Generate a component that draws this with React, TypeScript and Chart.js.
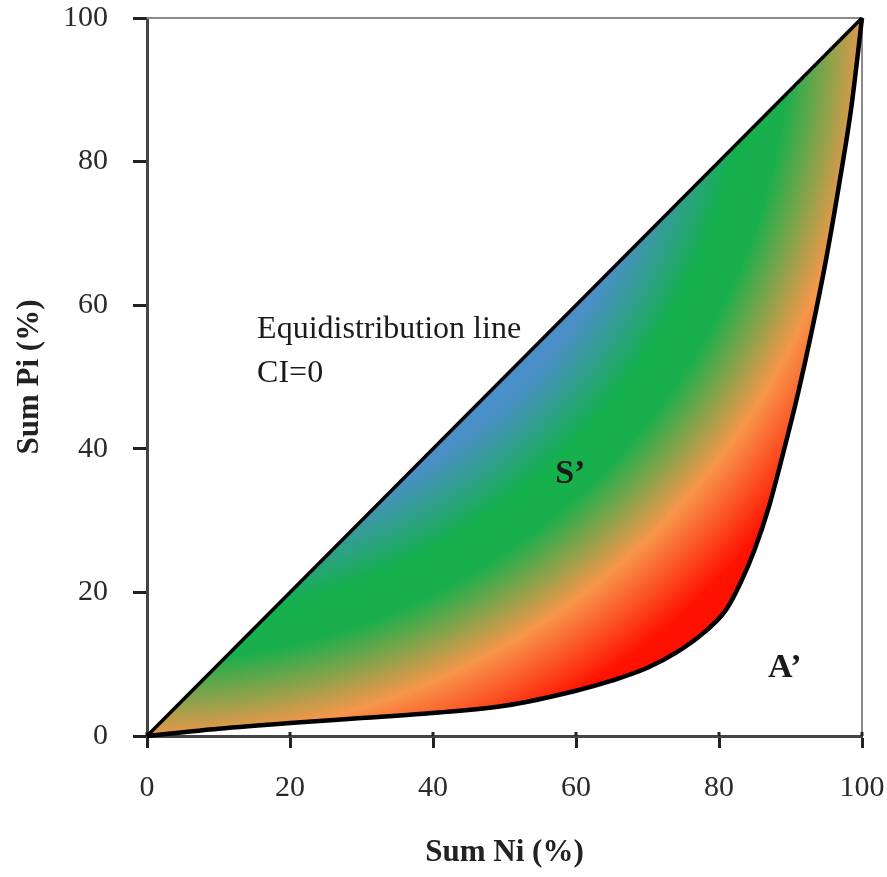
import React, { useEffect, useRef } from 'react';
import { Chart, registerables } from 'chart.js';

Chart.register(...registerables);

// ---- data ----
const equalityX = [0, 100];
const equalityY = [0, 100];
const lorenzX = [0, 10, 20, 30, 40, 50, 60, 65, 70, 74, 78, 81, 83, 85, 87, 89, 91, 93, 95, 97, 98.5, 100];
const lorenzY = [0, 1.0, 1.8, 2.5, 3.2, 4.2, 6.3, 7.7, 9.5, 11.6, 14.5, 17.6, 21.3, 26.0, 32.0, 39.5, 47.5, 56.5, 66.5, 78.0, 87.5, 100];
const xTitle = 'Sum Ni (%)';
const yTitle = 'Sum Pi (%)';
const labelTexts = ['Equidistribution line', 'CI=0', 'S\u2019', 'A\u2019'];
const labelAnchorX = [15.4, 15.4, 59.2, 89.2];
const labelAnchorY = [55.4, 49.3, 36.4, 9.5];

const SERIF = '"Liberation Serif", "Times New Roman", serif';

const framePlugin = {
  id: 'frame',
  beforeDatasetsDraw(chart: any) {
    const { ctx, chartArea } = chart;
    const { left, top, right, bottom } = chartArea;
    ctx.save();
    ctx.strokeStyle = '#8a8a8a';
    ctx.lineWidth = 2;
    ctx.beginPath();
    ctx.moveTo(left, top);
    ctx.lineTo(right, top);
    ctx.lineTo(right, bottom);
    ctx.stroke();
    // small upward part of the x tick marks (they cross the axis)
    const xs = chart.scales.x;
    ctx.strokeStyle = '#222';
    ctx.lineWidth = 3;
    xs.ticks.forEach((t: any) => {
      const px = xs.getPixelForValue(t.value);
      ctx.beginPath();
      ctx.moveTo(px, bottom);
      ctx.lineTo(px, bottom - 4);
      ctx.stroke();
    });
    ctx.restore();
  },
  afterDatasetsDraw(chart: any) {
    const { ctx } = chart;
    const xs = chart.scales.x;
    const ys = chart.scales.y;
    ctx.save();
    ctx.fillStyle = '#1a1a1a';
    labelTexts.forEach((t, i) => {
      const px = xs.getPixelForValue(labelAnchorX[i]);
      const py = ys.getPixelForValue(labelAnchorY[i]);
      if (i < 2) {
        ctx.font = `32px ${SERIF}`;
        ctx.textAlign = 'left';
        ctx.textBaseline = 'alphabetic';
      } else {
        ctx.font = `bold 34px ${SERIF}`;
        ctx.textAlign = 'center';
        ctx.textBaseline = 'middle';
      }
      ctx.fillText(t, px, py);
    });
    ctx.restore();
  },
};

function makeGradient(chart: any) {
  const area = chart.chartArea;
  if (!area) return 'rgba(0,0,0,0)';
  const { left, top, right, bottom } = area;
  const D = Math.hypot(right - left, bottom - top);
  const g = chart.ctx.createRadialGradient(left, top, 0, left, top, D);
  g.addColorStop(0, '#4a8fc6');
  g.addColorStop(0.52, '#4a8fc6');
  g.addColorStop(0.595, '#14b04c');
  g.addColorStop(0.635, '#1aaf4c');
  g.addColorStop(0.713, '#f7964a');
  g.addColorStop(0.79, '#ff1200');
  g.addColorStop(1, '#ff0000');
  return g;
}

const resetPadding = (s: any) => {
  s.paddingTop = 0;
  s.paddingBottom = 0;
  s.paddingLeft = 0;
  s.paddingRight = 0;
};

export default function App() {
  const ref = useRef<HTMLCanvasElement | null>(null);

  useEffect(() => {
    document.body.style.margin = '0';
    if (!ref.current) return;
    const chart = new Chart(ref.current, {
      type: 'line',
      data: {
        datasets: [
          {
            label: 'Equidistribution',
            data: equalityX.map((x, i) => ({ x, y: equalityY[i] })),
            borderColor: '#000',
            borderWidth: 3.5,
            pointRadius: 0,
            fill: false,
            clip: 10,
          } as any,
          {
            label: 'Lorenz',
            data: lorenzX.map((x, i) => ({ x, y: lorenzY[i] })),
            borderColor: '#000',
            borderWidth: 4.5,
            pointRadius: 0,
            cubicInterpolationMode: 'monotone',
            fill: { target: 0 },
            backgroundColor: (c: any) => makeGradient(c.chart),
            clip: 10,
          } as any,
        ],
      },
      options: {
        responsive: false,
        animation: false,
        devicePixelRatio: 1,
        layout: { padding: { top: 18, right: 25, left: 0, bottom: 0 } },
        plugins: { legend: { display: false }, tooltip: { enabled: false } },
        scales: {
          x: {
            type: 'linear',
            min: 0,
            max: 100,
            ticks: {
              stepSize: 20,
              color: '#2a2a2a',
              padding: 22,
              font: { family: SERIF, size: 30 },
            },
            grid: {
              drawOnChartArea: false,
              tickLength: 12,
              tickWidth: 3,
              tickColor: '#222',
            },
            border: { color: '#444', width: 3 },
            title: {
              display: true,
              text: xTitle,
              color: '#222',
              font: { family: SERIF, size: 31, weight: 'bold' },
              padding: { top: 0, bottom: 5 },
            },
            afterFit: (s: any) => {
              s.height = 141;
              resetPadding(s);
            },
          } as any,
          y: {
            type: 'linear',
            min: 0,
            max: 100,
            ticks: {
              stepSize: 20,
              color: '#2a2a2a',
              padding: 25,
              font: { family: SERIF, size: 30 },
            },
            grid: {
              drawOnChartArea: false,
              tickLength: 14,
              tickWidth: 3,
              tickColor: '#222',
            },
            border: { color: '#444', width: 3 },
            title: {
              display: true,
              text: yTitle,
              color: '#222',
              font: { family: SERIF, size: 31, weight: 'bold' },
              padding: { top: 11, bottom: 0 },
            },
            afterFit: (s: any) => {
              s.width = 147;
              resetPadding(s);
            },
          } as any,
        },
      },
      plugins: [framePlugin],
    });
    return () => chart.destroy();
  }, []);

  return (
    <div style={{ width: 887, height: 877, background: '#fff' }}>
      <canvas ref={ref} width={887} height={877} style={{ display: 'block' }} />
    </div>
  );
}
